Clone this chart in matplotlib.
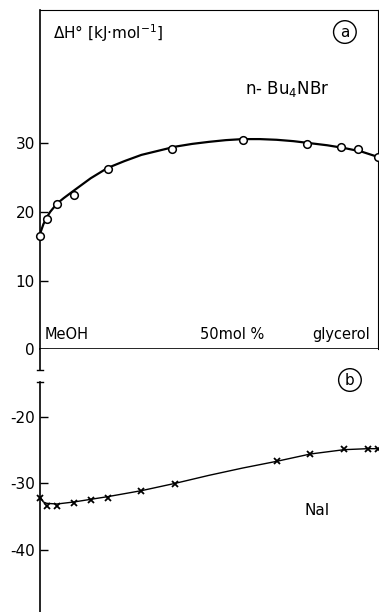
import matplotlib
matplotlib.use('Agg')
import matplotlib.pyplot as plt
from matplotlib.ticker import FixedLocator, NullFormatter

plt.rcParams['axes.unicode_minus'] = False

# (a) n-Bu4NBr, measured points and drawn curve
bu_x = [0, 2, 5, 10, 20, 39, 60, 79, 89, 94, 100]
bu_dh = [16.5, 19.0, 21.1, 22.5, 26.2, 29.2, 30.4, 29.9, 29.4, 29.1, 28.0]
bu_curve_x = [0, 1, 2, 3, 5, 7, 10, 15, 20, 25, 30, 35, 40, 45, 50, 55, 60, 65, 70, 75, 80, 85, 90, 95, 100]
bu_curve_dh = [16.8, 18.2, 19.2, 20.0, 21.2, 22.0, 23.1, 24.9, 26.4, 27.4, 28.3, 28.9, 29.5, 29.9, 30.2,
               30.45, 30.6, 30.6, 30.5, 30.3, 30.0, 29.7, 29.3, 28.8, 28.0]

# (b) NaI
nai_x = [0, 2, 5, 10, 15, 20, 30, 40, 70, 80, 90, 97, 100]
nai_dh = [-32.15, -33.4, -33.4, -32.9, -32.5, -32.25, -31.15, -30.05, -26.65, -25.55, -24.9, -24.9, -24.9]
nai_curve_x = [0, 1, 2, 5, 10, 15, 20, 30, 40, 50, 60, 70, 80, 90, 97, 100]
nai_curve_dh = [-32.0, -32.8, -33.0, -33.1, -32.8, -32.4, -32.0, -31.1, -30.0, -28.8, -27.7, -26.7, -25.6,
                -24.95, -24.8, -24.8]

top_ticks = [0, 10, 20, 30]
bot_ticks = [-20, -30, -40]

fig = plt.figure(figsize=(3.79, 6.12), dpi=100)
ax_top = fig.add_axes([40 / 379, 0.4293, 338 / 379, 0.5544])
ax_bot = fig.add_axes([40 / 379, 0.0, 338 / 379, 0.4293])

# top panel
ax_top.plot(bu_curve_x, bu_curve_dh, '-', color='black', linewidth=1.6, zorder=2)
ax_top.plot(bu_x, bu_dh, 'o', markersize=5.5, markerfacecolor='white', markeredgecolor='black',
            markeredgewidth=1.1, clip_on=False, zorder=3)
ax_top.set_xlim(0, 100)
ax_top.set_ylim(0, 49.4)
for s in ['top', 'right']:
    ax_top.spines[s].set_linewidth(0.8)
ax_top.spines['left'].set_linewidth(1.2)
ax_top.spines['bottom'].set_linewidth(1.2)
ax_top.set_yticks(top_ticks)
ax_top.tick_params(axis='y', direction='in', length=6, width=1.0, labelsize=11, pad=3.6)
ax_top.xaxis.set_major_locator(FixedLocator([50]))
ax_top.xaxis.set_minor_locator(FixedLocator([10, 20, 30, 40, 60, 70, 80, 90]))
ax_top.xaxis.set_major_formatter(NullFormatter())
ax_top.tick_params(axis='x', which='major', direction='out', length=6.5, width=1.0)
ax_top.tick_params(axis='x', which='minor', direction='out', length=3, width=1.0)

ax_top.text(0.0385, 0.931, u'\u0394H\u00b0 [kJ\u00b7mol$^{-1}$]', transform=ax_top.transAxes,
            fontsize=11, ha='left', va='center')
ax_top.text(0.902, 0.935, 'a', transform=ax_top.transAxes, fontsize=11, ha='center', va='center',
            bbox=dict(boxstyle='circle,pad=0.25', fc='white', ec='black', lw=1.0))
ax_top.text(0.607, 0.767, 'n- Bu$_4$NBr', transform=ax_top.transAxes, fontsize=12, ha='left', va='center')
ax_top.text(0.0148, 0.030, 'MeOH', transform=ax_top.transAxes, fontsize=10.5, ha='left', va='baseline')
ax_top.text(0.473, 0.030, '50mol %', transform=ax_top.transAxes, fontsize=10.5, ha='left', va='baseline')
ax_top.text(0.805, 0.030, 'glycerol', transform=ax_top.transAxes, fontsize=10.5, ha='left', va='baseline')

# bottom panel
ax_bot.plot(nai_curve_x, nai_curve_dh, '-', color='black', linewidth=1.0, zorder=2)
ax_bot.plot(nai_x, nai_dh, 'x', markersize=4.5, color='black', markeredgewidth=1.3, clip_on=False, zorder=3)
ax_bot.set_xlim(0, 100)
ax_bot.set_ylim(-49.3, -9.89)
for s in ['top', 'right', 'bottom']:
    ax_bot.spines[s].set_visible(False)
ax_bot.spines['left'].set_linewidth(1.2)
ax_bot.spines['left'].set_bounds(-49.3, -14.75)
ax_bot.set_xticks([])
ax_bot.set_yticks(bot_ticks)
ax_bot.tick_params(axis='y', direction='in', length=6, width=1.0, labelsize=11, pad=3.6)

# axis break marks
tr = ax_bot.get_yaxis_transform()
ax_bot.plot([0, 0], [-9.89, -13.0], color='black', linewidth=1.2, transform=tr, clip_on=False)
ax_bot.plot([-0.01, 0.01], [-13.0, -13.0], color='black', linewidth=1.0, transform=tr, clip_on=False)
ax_bot.plot([-0.01, 0.01], [-14.75, -14.75], color='black', linewidth=1.0, transform=tr, clip_on=False)

ax_bot.text(0.917, 0.883, 'b', transform=ax_bot.transAxes, fontsize=11, ha='center', va='center',
            bbox=dict(boxstyle='circle,pad=0.25', fc='white', ec='black', lw=1.0))
ax_bot.text(0.784, 0.388, 'NaI', transform=ax_bot.transAxes, fontsize=11, ha='left', va='center')

fig.savefig('out.png', dpi=100)
